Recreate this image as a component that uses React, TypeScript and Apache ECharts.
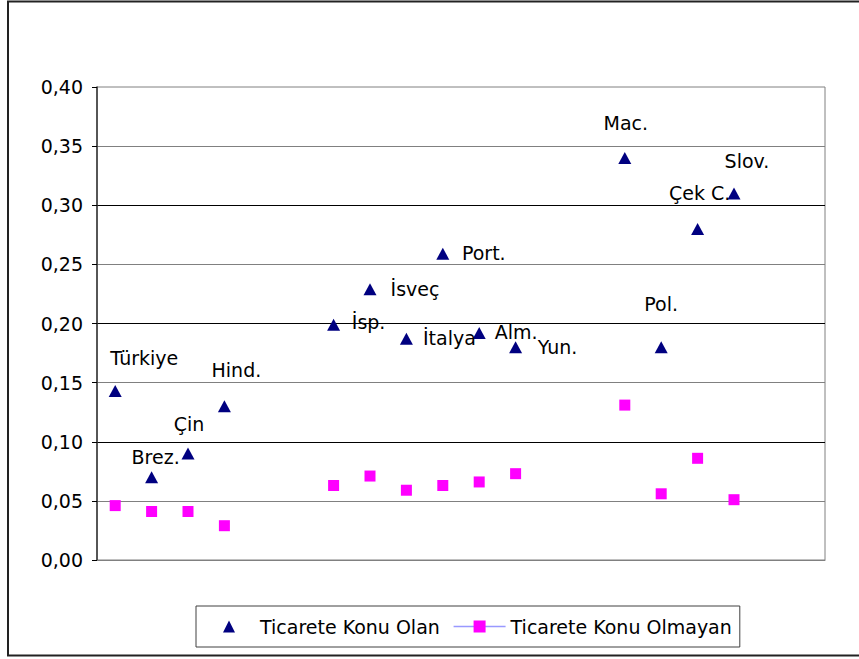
import React, { useEffect, useRef } from "react";
import * as echarts from "echarts";

// Category slots (gaps are empty slots on the axis)
const categories = [
  "Türkiye", "Brez.", "Çin", "Hind.", "gap1", "gap2",
  "İsp.", "İsveç", "İtalya", "Port.", "Alm.", "Yun.", "gap3", "gap4",
  "Mac.", "Pol.", "Çek C.", "Slov.", "gap5", "gap6",
];

const olan: (number | null)[] = [
  0.143, 0.070, 0.090, 0.130, null, null,
  0.199, 0.229, 0.187, 0.259, 0.192, 0.180, null, null,
  0.340, 0.180, 0.280, 0.310, null, null,
];

const olmayan: (number | null)[] = [
  0.046, 0.041, 0.041, 0.029, null, null,
  0.063, 0.071, 0.059, 0.063, 0.066, 0.073, null, null,
  0.131, 0.056, 0.086, 0.051, null, null,
];

const seriesNames = ["Ticarete Konu Olan", "Ticarete Konu Olmayan"];

// label offsets (style only) relative to each triangle marker
const labelOffsets: ([number, number] | null)[] = [
  [29, -33], [4, -20], [1, -30], [12, -36], null, null,
  [35, -3], [45, 0], [43, -1], [41, -1], [37, -1], [42, 0], null, null,
  [1, -35], [0, -43], [2, -36], [13, -32], null, null,
];

const FONT = "DejaVu Sans";

export default function App() {
  const ref = useRef<HTMLDivElement>(null);

  useEffect(() => {
    if (!ref.current) return;
    const chart = echarts.init(ref.current, undefined, { renderer: "svg" });

    const olanData = olan.map((v, i) =>
      v == null
        ? null
        : {
            value: v,
            label: {
              show: true,
              position: "inside",
              offset: labelOffsets[i] || [0, 0],
              formatter: categories[i],
              color: "#000",
              fontSize: 19,
              fontFamily: FONT,
            },
          }
    );

    chart.setOption({
      animation: false,
      backgroundColor: "#fff",
      textStyle: { fontFamily: FONT },
      grid: {
        left: 97,
        top: 87,
        right: 34,
        bottom: 99,
        show: true,
        borderColor: "#808080",
        borderWidth: 1,
        backgroundColor: "transparent",
      },
      graphic: [
        {
          type: "rect",
          shape: { x: 8, y: 1.5, width: 900, height: 654 },
          style: { fill: "none", stroke: "#222", lineWidth: 2 },
          silent: true,
          z: -10,
        },
      ],
      legend: {
        left: 196,
        top: 606,
        orient: "horizontal",
        padding: [11, 8, 11, 7],
        itemGap: 13,
        itemWidth: 52,
        itemHeight: 15,
        borderColor: "#404040",
        borderWidth: 1,
        backgroundColor: "#fff",
        textStyle: { fontSize: 19, fontFamily: FONT, color: "#000" },
        data: [
          { name: seriesNames[0] },
          {
            name: seriesNames[1],
            lineStyle: { color: "#9999ff", width: 1.5, opacity: 1 },
          },
        ],
      },
      xAxis: {
        type: "category",
        data: categories,
        boundaryGap: true,
        axisLine: { show: true, lineStyle: { color: "#808080", width: 1 } },
        axisTick: { show: false },
        axisLabel: { show: false },
        splitLine: { show: false },
      },
      yAxis: {
        type: "value",
        min: 0,
        max: 0.4,
        interval: 0.05,
        axisLine: { show: true, lineStyle: { color: "#333", width: 1.5 } },
        axisTick: { show: true, length: 5, lineStyle: { color: "#000" } },
        axisLabel: {
          margin: 14,
          color: "#000",
          fontSize: 19,
          fontFamily: FONT,
          formatter: (v: number) => v.toFixed(2).replace(".", ","),
        },
        splitLine: {
          show: true,
          showMinLine: false,
          showMaxLine: false,
          lineStyle: { color: ["#808080", "#000"], width: 1 },
        },
      },
      series: [
        {
          name: seriesNames[0],
          type: "line",
          data: olanData,
          symbol: "triangle",
          symbolSize: [13, 12],
          showSymbol: true,
          itemStyle: { color: "#000080" },
          lineStyle: { opacity: 0, width: 0 },
          connectNulls: false,
          z: 3,
        },
        {
          name: seriesNames[1],
          type: "line",
          data: olmayan,
          symbol: "rect",
          symbolSize: 11,
          showSymbol: true,
          itemStyle: { color: "#ff00ff" },
          lineStyle: { opacity: 0, width: 0, color: "#9999ff" },
          connectNulls: false,
          z: 2,
        },
      ],
    });

    return () => chart.dispose();
  }, []);

  return (
    <div
      ref={ref}
      style={{ position: "absolute", left: 0, top: 0, width: 859, height: 659 }}
    />
  );
}
